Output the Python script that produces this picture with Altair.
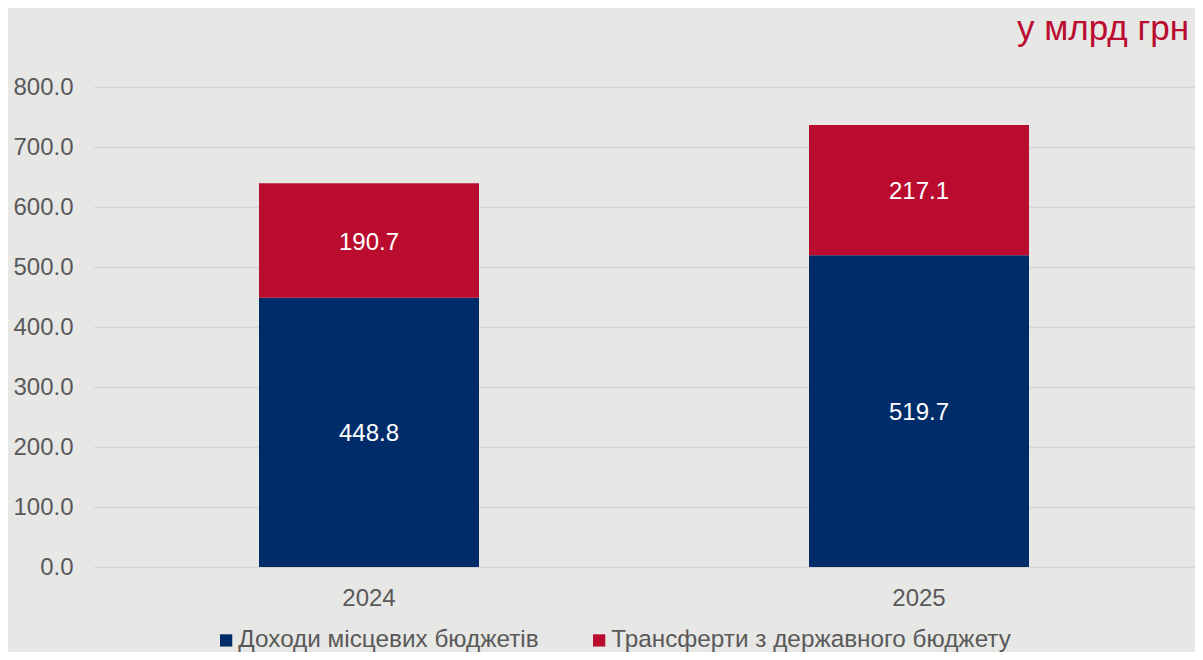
import altair as alt
import pandas as pd

years = ["2024", "2025"]
series = ["Доходи місцевих бюджетів", "Трансферти з державного бюджету"]
local_income = [448.8, 519.7]
transfers = [190.7, 217.1]
colors = ["#002D6A", "#BA0C2F"]
y_ticks = [0, 100, 200, 300, 400, 500, 600, 700, 800]
unit_label = ["у млрд грн"]

rows = []
for i, yr in enumerate(years):
    rows.append({"year": yr, "series": series[0], "value": local_income[i], "order": 0})
    rows.append({"year": yr, "series": series[1], "value": transfers[i], "order": 1})
df = pd.DataFrame(rows)

FONT = "Liberation Sans"

base = alt.Chart(df).transform_stack(
    stack="value", groupby=["year"], as_=["y0", "y1"], sort=[alt.SortField("order")]
).transform_calculate(mid="(datum.y0 + datum.y1) / 2")

x_enc = alt.X(
    "year:N",
    title=None,
    scale=alt.Scale(paddingInner=0.6, paddingOuter=0.3),
    axis=alt.Axis(labelAngle=0, ticks=False, domain=False, labelFontSize=24,
                  labelColor="#595959", labelFont=FONT, labelPadding=19),
)
y_scale = alt.Scale(domain=[0, 800], nice=False, zero=True)

bars = base.mark_bar(stroke=None).encode(
    x=x_enc,
    y=alt.Y("y0:Q", scale=y_scale, title=None,
            axis=alt.Axis(values=y_ticks, format=".1f", ticks=False, domain=False,
                          labelFontSize=24, labelColor="#595959", labelFont=FONT,
                          labelPadding=21, gridColor="#D3D3D3", gridWidth=1.5)),
    y2="y1:Q",
    color=alt.Color("series:N", scale=alt.Scale(domain=series, range=colors),
                    legend=alt.Legend(title=None, orient="none", direction="horizontal",
                                      legendX=120, legendY=541, symbolType="square",
                                      symbolSize=150, symbolStrokeWidth=0,
                                      labelFontSize=24.3, labelColor="#595959", labelFont=FONT,
                                      labelOffset=0, columnPadding=48, labelLimit=600)),
    order=alt.Order("order:Q"),
)

labels = base.mark_text(color="white", fontSize=24, font=FONT, baseline="middle", dy=2).encode(
    x=alt.X("year:N"),
    y=alt.Y("mid:Q", scale=y_scale),
    text=alt.Text("value:Q", format=".1f"),
)

title = alt.Chart(pd.DataFrame({"t": unit_label})).mark_text(
    align="right", baseline="alphabetic", fontSize=35, font=FONT, color="#BA0C2F"
).encode(x=alt.value(1095), y=alt.value(-47), text="t:N")

chart = alt.layer(bars, labels, title).properties(
    width=1100, height=480,
    autosize=alt.AutoSizeParams(type="none"),
    padding={"left": 86, "top": 79, "right": 1, "bottom": 85},
).configure(background="#E7E7E5").configure_view(stroke=None)

chart.save("out.html", embed_options={"renderer": "svg", "actions": False})
